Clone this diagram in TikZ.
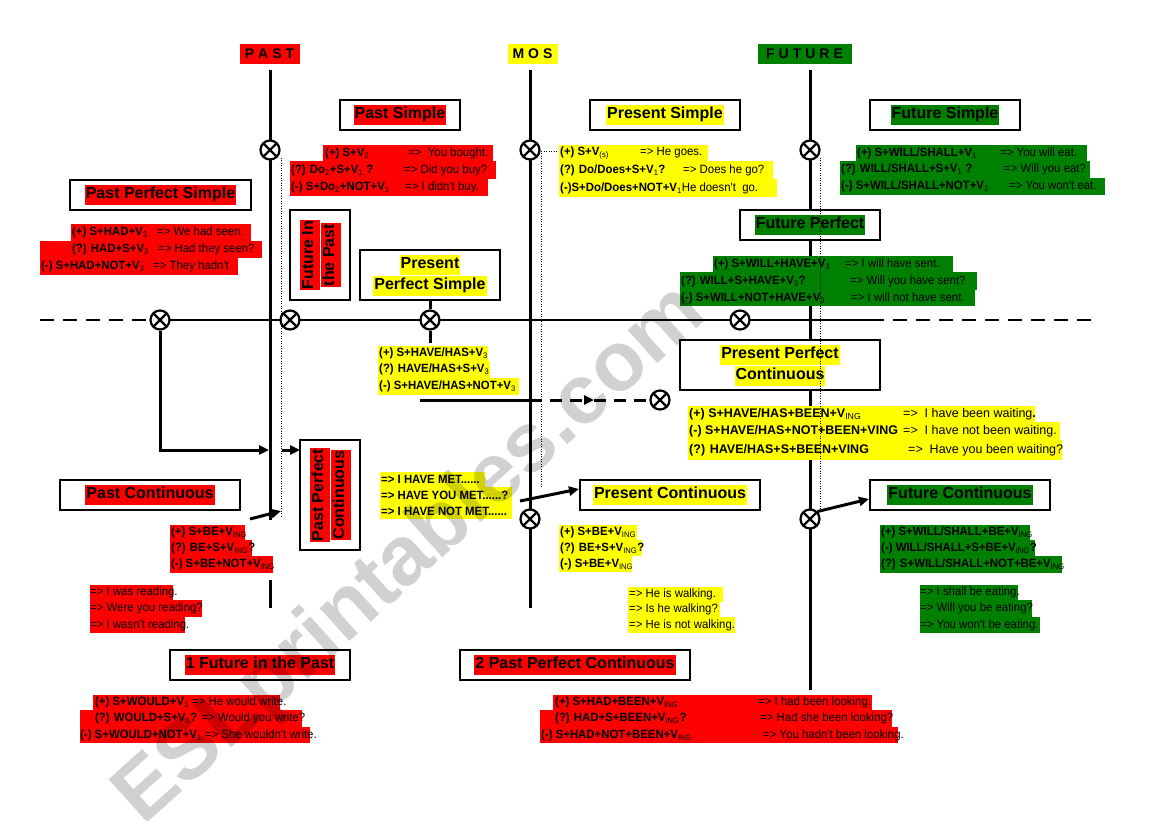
\documentclass[tikz,border=0pt]{standalone}
\usepackage{fontspec}
\setmainfont{Liberation Sans}
\newfontfamily\narfont[FakeStretch=0.95]{Liberation Sans}
\usetikzlibrary{arrows.meta,calc}
\definecolor{hred}{RGB}{255,0,0}
\definecolor{hyel}{RGB}{255,255,0}
\definecolor{hgrn}{RGB}{0,128,0}
\newcommand\fF{\narfont\bfseries\fontsize{12}{14}\selectfont}
\newcommand\fE{\narfont\mdseries\fontsize{12}{14}\selectfont}
\newcommand\fG{\bfseries\fontsize{12.5}{14}\selectfont}
\newcommand\fGr{\mdseries\fontsize{12.5}{14}\selectfont}
\newcommand\fHd{\bfseries\fontsize{16}{18}\selectfont}
\newcommand\sbs[1]{\textsubscript{\mdseries #1}}
\newcommand\mycol[2]{\makebox[#1pt][l]{#2}}
\newcommand\myhl[2]{{\setlength{\fboxsep}{1pt}\colorbox{#1}{\strut #2}}}
\newcommand\hlrow[7]{\node[hrowst, fill=#6, minimum height={#5-#3}] (#1) at (#2,#3) {\makebox[\dimexpr #4pt-#2pt\relax][l]{#7}};}
\begin{document}
\begin{tikzpicture}[x=1pt,y=-1pt,
  vline/.style={line width=3pt},
  tline/.style={line width=2.8pt},
  dotln/.style={line width=0.8pt, dash pattern=on 1pt off 1.5pt},
  bx/.style={draw, line width=1.1pt, fill=white, inner sep=0pt},
  hrowst/.style={anchor=north west, inner sep=0pt},
  hdr/.style={inner sep=0pt, minimum height=20pt, font=\bfseries\fontsize{14}{16}\selectfont},
  xc/.style={circle, draw, line width=2.2pt, fill=white, minimum size=19pt, inner sep=0pt,
    path picture={\draw[line width=2.2pt] (path picture bounding box.north west) -- (path picture bounding box.south east) (path picture bounding box.south west) -- (path picture bounding box.north east);}},
  tip/.tip={Triangle[length=10pt,width=9pt]}
]
\useasboundingbox (0,0) rectangle (1169,821);
\fill[white] (0,0) rectangle (1169,821);

% headers
\node[hdr, fill=hred, minimum width=60pt] (hPast) at (269.5,54) {P\hspace{4pt}A\hspace{4pt}S\hspace{4pt}T};
\node[hdr, fill=hyel, minimum width=50pt] (hMos) at (532.5,54) {M\hspace{4pt}O\hspace{4pt}S};
\node[hdr, fill=hgrn, minimum width=94pt] (hFut) at (804.5,54) {F\hspace{4pt}U\hspace{4pt}T\hspace{4pt}U\hspace{4pt}R\hspace{4pt}E};

% coordinates
\coordinate (pTop) at (270,70); \coordinate (pMid) at (270,520);
\coordinate (pLow) at (270,580); \coordinate (pBot) at (270,608);
\coordinate (mTop) at (530,70); \coordinate (mBot) at (530,608);
\coordinate (fTop) at (810,70); \coordinate (fBot) at (810,690);
\coordinate (tlA) at (40,320); \coordinate (tlB) at (870,320); \coordinate (tlC) at (1100,320);
\path (270,150) coordinate (c1p) (530,150) coordinate (c2p) (810,150) coordinate (c3p)
      (160,320) coordinate (c4p) (290,320) coordinate (c5p) (430,320) coordinate (c6p)
      (740,320) coordinate (c7p) (660,400) coordinate (c8p) (530,519) coordinate (c9p)
      (810,519) coordinate (c10p);

% vertical axes
\draw[vline] (pTop) -- (pMid);
\draw[vline] (pLow) -- (pBot);
\draw[vline] (mTop) -- (mBot);
\draw[vline] (fTop) -- (fBot);

% timeline
\draw[tline, dash pattern=on 14pt off 9pt] (tlA) -- (c4p);
\draw[tline] (c4p) -- (tlB);
\draw[tline, dash pattern=on 14pt off 9pt] (tlB) -- (tlC);

% boxes
\node[bx, minimum width=120pt, minimum height=30pt] (bPS) at (400,115) {\fHd\myhl{hred}{Past Simple}};
\node[bx, minimum width=150pt, minimum height=30pt] (bPrS) at (665,115) {\fHd\myhl{hyel}{Present Simple}};
\node[bx, minimum width=150pt, minimum height=30pt] (bFS) at (945,115) {\fHd\myhl{hgrn}{Future Simple}};
\node[bx, minimum width=181pt, minimum height=30pt] (bPPS) at (160.5,195) {\fHd\myhl{hred}{Past Perfect Simple}};
\node[bx, minimum width=60pt, minimum height=90pt] (bFitP) at (320,255) {};
\node[rotate=90, align=center, font=\fHd, inner sep=0pt] (tFitP) at (bFitP.center) {\myhl{hred}{Future In}\\\myhl{hred}{the Past}};
\node[bx, minimum width=140pt, minimum height=50pt, align=center, font=\fHd] (bPrPS) at (430,275) {\myhl{hyel}{Present}\\\myhl{hyel}{Perfect Simple}};
\node[bx, minimum width=140pt, minimum height=30pt] (bFP) at (810,225) {\fHd\myhl{hgrn}{Future Perfect}};
\node[bx, minimum width=200pt, minimum height=50pt, align=center, font=\fHd] (bPPC) at (780,365) {\myhl{hyel}{Present Perfect}\\\myhl{hyel}{Continuous}};
\node[bx, minimum width=60pt, minimum height=110pt] (bPPCr) at (330,495) {};
\node[rotate=90, align=center, font=\fHd, inner sep=0pt] (tPPCr) at (bPPCr.center) {\myhl{hred}{Past Perfect}\\\myhl{hred}{Continuous}};
\node[bx, minimum width=180pt, minimum height=30pt] (bPC) at (150,495) {\fHd\myhl{hred}{Past Continuous}};
\node[bx, minimum width=180pt, minimum height=30pt] (bPrC) at (670,495) {\fHd\myhl{hyel}{Present Continuous}};
\node[bx, minimum width=180pt, minimum height=30pt] (bFC) at (960,495) {\fHd\myhl{hgrn}{Future Continuous}};
\node[bx, minimum width=180pt, minimum height=30pt] (bFiP) at (260,665) {\fHd\myhl{hred}{1 Future in the Past}};
\node[bx, minimum width=230pt, minimum height=30pt] (bPPC2) at (575,665) {\fHd\myhl{hred}{2 Past Perfect Continuous}};

% Past Simple
\hlrow{psA}{323}{145}{493}{161}{hred}{\hspace*{2pt}\mycol{83}{\fF(+) S+V\sbs{2}}\fE=>\ \ You bought.}
\hlrow{psB}{290}{161}{496}{179}{hred}{\hspace*{1pt}\mycol{113}{\fF(?) Do\sbs{2}+S+V\sbs{1} ?}\fE=> Did you buy?}
\hlrow{psC}{290}{179}{488}{196}{hred}{\hspace*{1pt}\mycol{114}{\fF(-) S+Do\sbs{2}+NOT+V\sbs{1}}\fE=> I didn't buy.}
% Present Simple
\hlrow{prA}{559}{145}{708}{161}{hyel}{\hspace*{1pt}\mycol{80}{\fF(+) S+V\sbs{(s)}}\fE=> He goes.}
\hlrow{prB}{559}{161}{773}{179}{hyel}{\hspace*{1pt}\mycol{123}{\fF(?) Do/Does+S+V\sbs{1}?}\fE=> Does he go?}
\hlrow{prC}{559}{179}{777}{197}{hyel}{\hspace*{1pt}{\fF(-)S+Do/Does+NOT+V\sbs{1}}\fE He doesn't\ \ go.}
% Future Simple
\hlrow{fsA}{856}{145}{1087}{161}{hgrn}{\hspace*{1pt}\mycol{143}{\fF(+) S+WILL/SHALL+V\sbs{1}}\fE=> You will eat.}
\hlrow{fsB}{840}{161}{1090}{178}{hgrn}{\hspace*{1pt}\mycol{163}{\fF(?) WILL/SHALL+S+V\sbs{1} ?}\fE=> Will you eat?}
\hlrow{fsC}{840}{178}{1105}{195}{hgrn}{\hspace*{1pt}\mycol{168}{\fF(-) S+WILL/SHALL+NOT+V\sbs{1}}\fE=> You won't eat.}
% Past Perfect Simple
\hlrow{ppA}{71}{224}{251}{241}{hred}{\hspace*{1pt}\mycol{85}{\fF(+) S+HAD+V\sbs{3}}\fE=> We had seen.}
\hlrow{ppB}{40}{241}{262}{258}{hred}{\hspace*{32pt}\mycol{86}{\fF(?) HAD+S+V\sbs{3}}\fE=> Had they seen?}
\hlrow{ppC}{40}{258}{238}{275}{hred}{\hspace*{1pt}\mycol{112}{\fF(-) S+HAD+NOT+V\sbs{3}}\fE=> They hadn't}
% Future Perfect
\hlrow{fpA}{713}{256}{953}{272}{hgrn}{\hspace*{1pt}\mycol{131}{\fF(+) S+WILL+HAVE+V\sbs{3}}\fE=> I will have sent.}
\hlrow{fpB}{680}{272}{977}{290}{hgrn}{\hspace*{1pt}\mycol{169}{\fF(?) WILL+S+HAVE+V\sbs{3}?}\fE=> Will you have sent?}
\hlrow{fpC}{680}{290}{975}{306}{hgrn}{\hspace*{1pt}\mycol{170}{\fF(-) S+WILL+NOT+HAVE+V\sbs{3}}\fE=> I will not have sent.}
% Present Perfect Simple formulas
\hlrow{fA}{378}{346}{488}{361}{hyel}{\hspace*{1pt}\fF(+) S+HAVE/HAS+V\sbs{3}}
\hlrow{fB}{378}{361}{490}{378}{hyel}{\hspace*{1pt}\fF(?) HAVE/HAS+S+V\sbs{3}}
\hlrow{fC}{378}{378}{519}{395}{hyel}{\hspace*{1pt}\fF(-) S+HAVE/HAS+NOT+V\sbs{3}}
% Present Perfect Continuous formulas
\hlrow{gA}{688}{406}{1035}{422}{hyel}{\hspace*{1pt}\mycol{214}{\fG(+) S+HAVE/HAS+BEEN+V\sbs{ING}}\fGr=>\ \ I have been waiting\textbf{.}}
\hlrow{gB}{688}{422}{1060}{440}{hyel}{\hspace*{1pt}\mycol{214}{\fG(-) S+HAVE/HAS+NOT+BEEN+VING}\fGr=>\ \ I have not been waiting.}
\hlrow{gC}{688}{440}{1062}{460}{hyel}{\hspace*{1pt}\mycol{219}{\fG(?) HAVE/HAS+S+BEEN+VING}\fGr=>\ \ Have you been waiting?}
% I have met
\hlrow{hA}{380}{472}{485}{487}{hyel}{\hspace*{1pt}\fF=> I HAVE MET......}
\hlrow{hB}{380}{487}{512}{503}{hyel}{\hspace*{1pt}\fF=> HAVE YOU MET......?}
\hlrow{hC}{380}{503}{512}{519}{hyel}{\hspace*{1pt}\fF=> I HAVE NOT MET......}
% Present Continuous
\hlrow{iA}{559}{525}{637}{540}{hyel}{\hspace*{1pt}\fF(+) S+BE+V\sbs{ING}}
\hlrow{iB}{559}{540}{642}{556}{hyel}{\hspace*{1pt}\fF(?) BE+S+V\sbs{ING}?}
\hlrow{iC}{559}{556}{632}{572}{hyel}{\hspace*{1pt}\fF(-) S+BE+V\sbs{ING}}
\hlrow{iD}{628}{587}{723}{602}{hyel}{\hspace*{1pt}\fE=> He is walking.}
\hlrow{iE}{628}{602}{720}{617}{hyel}{\hspace*{1pt}\fE=> Is he walking?}
\hlrow{iF}{628}{617}{735}{633}{hyel}{\hspace*{1pt}\fE=> He is not walking.}
% Past Continuous
\hlrow{jA}{170}{525}{245}{540}{hred}{\hspace*{1pt}\fF(+) S+BE+V\sbs{ING}}
\hlrow{jB}{170}{540}{252}{556}{hred}{\hspace*{1pt}\fF(?) BE+S+V\sbs{ING}?}
\hlrow{jC}{170}{556}{273}{573}{hred}{\hspace*{1pt}\fF(-) S+BE+NOT+V\sbs{ING}}
\hlrow{jD}{90}{585}{173}{600}{hred}{\fE=> I was reading.}
\hlrow{jE}{90}{600}{202}{617}{hred}{\fE=> Were you reading?}
\hlrow{jF}{90}{617}{185}{633}{hred}{\fE=> I wasn't reading.}
% Future Continuous
\hlrow{kA}{880}{525}{1030}{540}{hgrn}{\hspace*{1pt}\fF(+) S+WILL/SHALL+BE+V\sbs{ING}}
\hlrow{kB}{880}{540}{1035}{556}{hgrn}{\hspace*{1pt}\fF(-) WILL/SHALL+S+BE+V\sbs{ING}?}
\hlrow{kC}{880}{556}{1062}{573}{hgrn}{\hspace*{1pt}\fF(?) S+WILL/SHALL+NOT+BE+V\sbs{ING}}
\hlrow{kD}{920}{585}{1018}{600}{hgrn}{\fE=> I shall be eating.}
\hlrow{kE}{920}{600}{1032}{617}{hgrn}{\fE=> Will you be eating?}
\hlrow{kF}{920}{617}{1040}{633}{hgrn}{\fE=> You won't be eating.}
% Future in the Past
\hlrow{lA}{93}{695}{280}{710}{hred}{\hspace*{2pt}\fF(+) S+WOULD+V\sbs{1} \fE=> He would write.}
\hlrow{lB}{80}{710}{302}{727}{hred}{\hspace*{15pt}\fF(?) WOULD+S+V\sbs{1}? \fE=> Would you write?}
\hlrow{lC}{80}{727}{310}{743}{hred}{\fF(-) S+WOULD+NOT+V\sbs{1} \fE=> She wouldn't write.}
% Past Perfect Continuous
\hlrow{mA}{553}{695}{872}{710}{hred}{\hspace*{2pt}\mycol{203}{\fF(+) S+HAD+BEEN+V\sbs{ING}}\fE=> I had been looking.}
\hlrow{mB}{540}{710}{892}{727}{hred}{\hspace*{15pt}\mycol{205}{\fF(?) HAD+S+BEEN+V\sbs{ING}?}\fE=> Had she been looking?}
\hlrow{mC}{540}{727}{898}{743}{hred}{\hspace*{1pt}\mycol{222}{\fF(-) S+HAD+NOT+BEEN+V\sbs{ING}}\fE=> You hadn't been looking.}

% dotted guides
\coordinate (dP1) at (281,158); \coordinate (dP2) at (281,518);
\coordinate (dM0) at (558,151); \coordinate (dM1) at (541,151); \coordinate (dM2) at (541,487);
\coordinate (dF1) at (820,158); \coordinate (dF2) at (820,510);
\draw[dotln] (dP1) -- (dP2);
\draw[dotln] (dM1) -- (dM0);
\draw[dotln] (dM1) -- (dM2);
\draw[dotln] (dF1) -- (dF2);

% circles
\node[xc] (c1) at (c1p) {};
\node[xc] (c2) at (c2p) {};
\node[xc] (c3) at (c3p) {};
\node[xc] (c4) at (c4p) {};
\node[xc] (c5) at (c5p) {};
\node[xc] (c6) at (c6p) {};
\node[xc] (c7) at (c7p) {};
\node[xc] (c8) at (c8p) {};
\node[xc] (c9) at (c9p) {};
\node[xc] (c10) at (c10p) {};

% connectors
\coordinate (aP1) at (269,450);
\coordinate (aP2) at (282,450); \coordinate (aP3) at (300,450);
\draw[line width=3pt, -tip] (c4) |- (aP1);
\draw[line width=3pt, -tip] (aP2) -- (aP3);
\coordinate (aC1) at (250,519); \coordinate (aC2) at (281,511);
\draw[line width=3pt, -tip] (aC1) -- (aC2);
\coordinate (aM1) at (520,501); \coordinate (aM2) at (579,489);
\draw[line width=3pt, -tip] (aM1) -- (aM2);
\coordinate (aF2) at (869,499);
\draw[line width=3pt, -tip] (c10.north east) -- (aF2);
\coordinate (pp1) at (420,400); \coordinate (pp2) at (530,400); \coordinate (ppm) at (594,400);
\draw[line width=3pt] (pp1) -- (pp2);
\draw[line width=3pt, -tip, dash pattern=on 12pt off 8pt] (pp2) -- (ppm);
\draw[line width=3pt, dash pattern=on 12pt off 8pt] (ppm) -- (c8);
\coordinate (pps3) at (430,343);
\draw[line width=3pt] (bPrPS.south) -- (c6);
\draw[line width=3pt] (c6) -- (pps3);

% watermark
\node[rotate=42, text=black, text opacity=0.18, inner sep=0pt, font=\bfseries\fontsize{84}{84}\selectfont] (wm) at (412,556) {ESLprintables.com};
\end{tikzpicture}
\end{document}
